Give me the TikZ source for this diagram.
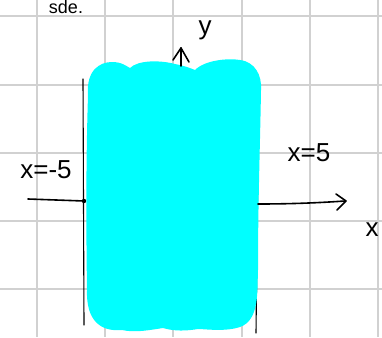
\documentclass[tikz,border=0pt]{standalone}
\usepackage{fontspec}
\setmainfont{Liberation Sans}
\usetikzlibrary{arrows.meta}
\definecolor{puracyan}{RGB}{0,255,255}
\tikzset{
  gridline/.style={draw=black!18, line width=1.3pt},
  ink/.style={draw=black, line width=1.6pt, line cap=round, line join=round},
  thinink/.style={draw=black, line width=1.1pt, line cap=round},
  hand/.style={font=\fontsize{26}{26}\selectfont, inner sep=0pt}
}
\begin{document}
\begin{tikzpicture}[x=1pt,y=-1pt]
\useasboundingbox (0,0) rectangle (382,337);
\fill[white] (0,0) rectangle (382,337);
% grid
\foreach \gx in {37,105,173,242,310,378} \draw[gridline] (\gx,0) -- (\gx,337);
\foreach \gy in {16,85,153,221,289} \draw[gridline] (0,\gy) -- (382,\gy);
% vertical boundary lines
\coordinate (lt) at (83,79);
\coordinate (lb) at (84,325);
\coordinate (rt) at (258,150);
\coordinate (rb) at (256,333);
\draw[thinink] (lt) -- (lb);
\draw[thinink] (rt) -- (rb);
% cyan region
\fill[puracyan] (88,95)
  .. controls (86,70) and (100,62) .. (112,62)
  .. controls (122,62) and (126,66) .. (130,68)
  .. controls (138,60) and (160,60) .. (175,64)
  .. controls (185,66) and (190,68) .. (195,70)
  .. controls (205,60) and (228,58) .. (240,60)
  .. controls (255,62) and (262,75) .. (261,90)
  .. controls (260,150) and (258,200) .. (258,270)
  .. controls (257,290) and (260,320) .. (240,327)
  .. controls (225,332) and (205,329) .. (198,329)
  .. controls (180,332) and (170,330) .. (163,328)
  .. controls (150,330) and (135,333) .. (122,330)
  .. controls (100,332) and (86,320) .. (87,290)
  .. controls (86,220) and (86,160) .. (88,95) -- cycle;
% x axis
\coordinate (xl) at (28,199);
\coordinate (xm) at (84,201);
\coordinate (xr0) at (258,204);
\coordinate (xr) at (345,201);
\draw[ink] (xl) -- (xm);
\fill (xm) circle (2.2pt);
\draw[ink] (xr0) .. controls (300,204) and (330,202) .. (xr);
\draw[ink] (336,194) -- (346,201) -- (337,210);
% y axis arrow
\coordinate (yb) at (181,66);
\coordinate (yt) at (181,48);
\draw[ink] (yb) -- (yt);
\draw[ink] (173,60) -- (181,48) -- (189,62);
% labels
\node[hand] (ylab) at (205,30) {y};
\node[hand] (xlab) at (372,230) {x};
\node[hand] (lab1) at (46,170) {x=-5};
\node[hand] (lab2) at (309,153) {x=5};
\node[hand, font=\fontsize{18}{18}\selectfont, anchor=north] (top) at (66,0.5) {sde.};
\end{tikzpicture}
\end{document}
